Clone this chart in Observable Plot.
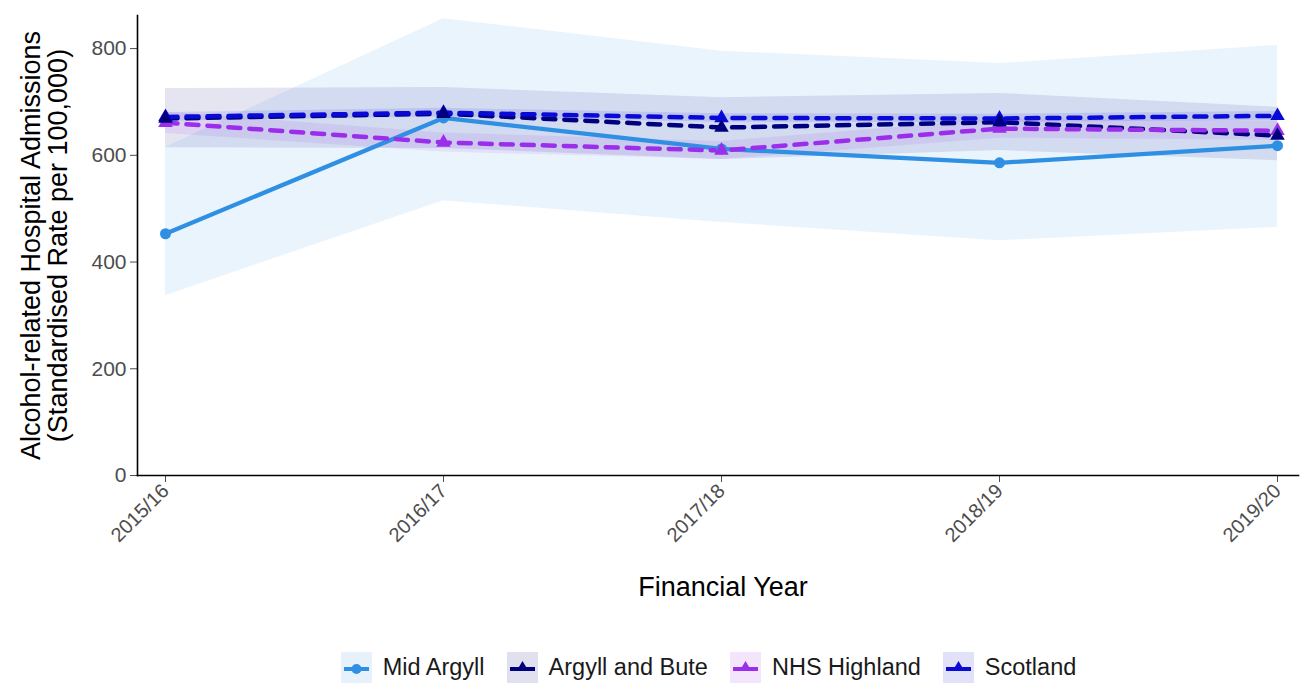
<!DOCTYPE html>
<html>
<head>
<meta charset="utf-8">
<script src="https://cdn.jsdelivr.net/npm/d3@7"></script>
<script src="https://cdn.jsdelivr.net/npm/@observablehq/plot@0.6"></script>
<style>
  html, body { margin: 0; padding: 0; background: #fff; }
  body { width: 1303px; height: 683px; position: relative; overflow: hidden;
         font-family: "Liberation Sans", Arial, Helvetica, sans-serif; }
  #chart { position: absolute; left: 0; top: 0; }
  #legend { position: absolute; left: 0; top: 651px; width: 1303px; height: 32px;
            display: flex; justify-content: center; align-items: center;
            transform: translateX(57px); }
  .item { display: flex; align-items: center; margin-right: 22px; }
  .item:last-child { margin-right: 0; }
  .item svg { display: block; margin-right: 11px; }
  .item span { font-size: 23.5px; color: #1a1a1a; white-space: nowrap; }
</style>
</head>
<body>
<div id="chart"></div>
<div id="legend"></div>
<script>
// ---- data ----
const years = ["2015/16", "2016/17", "2017/18", "2018/19", "2019/20"];
const areas = ["Mid Argyll", "Argyll and Bute", "NHS Highland", "Scotland"];
const areaColors = ["#2E8FE3", "#00007F", "#9A2EEA", "#0A0AD8"];

const midArgyll      = [453, 670, 612, 586, 618];
const midArgyllLower = [337, 515, 474, 440, 465];
const midArgyllUpper = [615, 856, 795, 772, 806];

const argyllBute      = [669, 678, 652, 662, 637];
const argyllButeLower = [614, 613, 592, 609, 590];
const argyllButeUpper = [725, 727, 708, 716, 690];

const nhsHighland      = [661, 624, 609, 650, 646];
const nhsHighlandLower = [641, 606, 592, 632, 628];
const nhsHighlandUpper = [681, 642, 626, 668, 664];

const scotland      = [672, 680, 670, 669, 674];
const scotlandLower = [664, 672, 662, 661, 666];
const scotlandUpper = [680, 688, 678, 677, 682];

const yTicks = [0, 200, 400, 600, 800];

// ---- table ----
const seriesValues = [
  [midArgyll, midArgyllLower, midArgyllUpper],
  [argyllBute, argyllButeLower, argyllButeUpper],
  [nhsHighland, nhsHighlandLower, nhsHighlandUpper],
  [scotland, scotlandLower, scotlandUpper]
];
const rows = [];
areas.forEach((a, i) => {
  const [v, lo, hi] = seriesValues[i];
  years.forEach((y, j) => rows.push({area: a, year: y, value: v[j], lower: lo[j], upper: hi[j]}));
});
const of = a => rows.filter(d => d.area === a);

const font = '"Liberation Sans", Arial, Helvetica, sans-serif';
const color = {domain: areas, range: areaColors};

const marks = [];
// confidence bands
areas.forEach(a => marks.push(Plot.areaY(of(a), {x: "year", y1: "lower", y2: "upper", fill: "area", fillOpacity: 0.1})));
// lines
marks.push(Plot.line(of("Mid Argyll"), {x: "year", y: "value", stroke: "area", strokeWidth: 4.2}));
["Argyll and Bute", "NHS Highland", "Scotland"].forEach(a =>
  marks.push(Plot.line(of(a), {x: "year", y: "value", stroke: "area", strokeWidth: 4.5, strokeDasharray: "12,9"})));
// points
marks.push(Plot.dot(of("Mid Argyll"), {x: "year", y: "value", fill: "area", r: 5.5, symbol: "circle"}));
["NHS Highland", "Scotland", "Argyll and Bute"].forEach(a =>
  marks.push(Plot.dot(of(a), {x: "year", y: "value", fill: "area", r: 5.4, symbol: "triangle"})));

// axes
marks.push(Plot.axisY({ticks: yTicks, tickSize: 7, tickPadding: 4, fontSize: 21, color: "#4D4D4D", label: null}));
marks.push(Plot.axisX({tickSize: 7, tickPadding: 5, tickRotate: -45, fontSize: 20, color: "#4D4D4D", label: null}));
marks.push(Plot.frame({anchor: "left", stroke: "#000", strokeWidth: 1.6}));
marks.push(Plot.frame({anchor: "bottom", stroke: "#000", strokeWidth: 1.6}));
// titles
marks.push(Plot.text(["Financial Year"], {frameAnchor: "bottom", dy: 120, dx: 5, fontSize: 27, fill: "#000"}));
marks.push(Plot.text(["Alcohol-related Hospital Admissions\n(Standardised Rate per 100,000)"],
  {frameAnchor: "left", textAnchor: "middle", lineAnchor: "middle", rotate: -90, dx: -93, fontSize: 27, lineHeight: 1.02, fill: "#000"}));

const chart = Plot.plot({
  width: 1303,
  height: 640,
  marginLeft: 137,
  marginRight: 5,
  marginTop: 15,
  marginBottom: 165,
  style: {fontFamily: font, background: "#fff", overflow: "visible"},
  x: {type: "point", domain: years, padding: 0.0844, align: 0.574},
  y: {domain: [0, 862]},
  color,
  marks
});
document.getElementById("chart").appendChild(chart);

// ---- legend ----
const legend = document.getElementById("legend");
const ns = "http://www.w3.org/2000/svg";
areas.forEach((a, i) => {
  const item = document.createElement("div");
  item.className = "item";
  const s = document.createElementNS(ns, "svg");
  s.setAttribute("width", 31); s.setAttribute("height", 31);
  const c = areaColors[i];
  const rect = document.createElementNS(ns, "rect");
  rect.setAttribute("width", 31); rect.setAttribute("height", 31);
  rect.setAttribute("fill", c); rect.setAttribute("fill-opacity", 0.12);
  s.appendChild(rect);
  const line = document.createElementNS(ns, "line");
  line.setAttribute("x1", 3); line.setAttribute("x2", 28);
  line.setAttribute("y1", 17); line.setAttribute("y2", 17);
  line.setAttribute("stroke", c); line.setAttribute("stroke-width", 4);
  if (i > 0) line.setAttribute("stroke-dasharray", "10,5");
  s.appendChild(line);
  if (i === 0) {
    const ci = document.createElementNS(ns, "circle");
    ci.setAttribute("cx", 15.5); ci.setAttribute("cy", 17); ci.setAttribute("r", 5);
    ci.setAttribute("fill", c); s.appendChild(ci);
  } else {
    const p = document.createElementNS(ns, "path");
    p.setAttribute("d", "M15.5,9 L21.5,19 L9.5,19 Z");
    p.setAttribute("fill", c); s.appendChild(p);
  }
  item.appendChild(s);
  const t = document.createElement("span");
  t.textContent = a;
  item.appendChild(t);
  legend.appendChild(item);
});
</script>
</body>
</html>
